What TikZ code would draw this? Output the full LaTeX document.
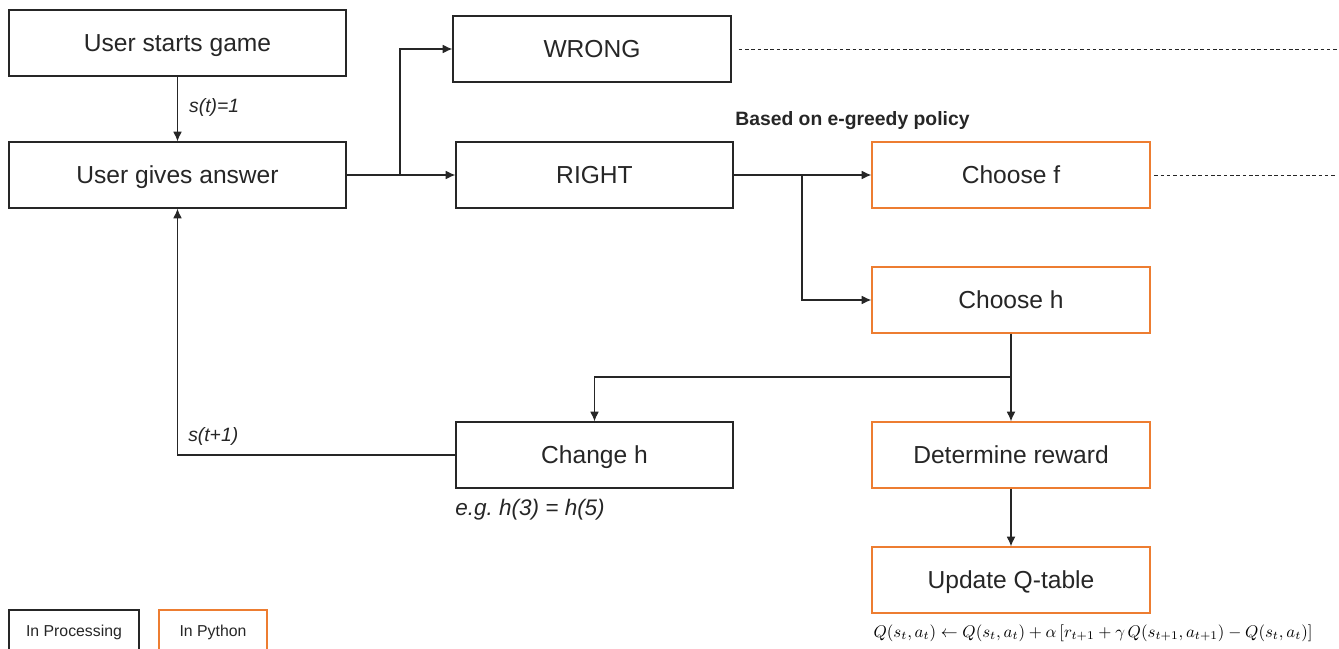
\documentclass[tikz,border=0pt]{standalone}
\usepackage{amsmath}
\usepackage{fontspec}
\setmainfont{Liberation Sans}
\usepackage{tikz}
\usetikzlibrary{arrows.meta,calc}
\usetikzlibrary{positioning}
\definecolor{pyorange}{RGB}{237,125,49}
\definecolor{boxgray}{RGB}{38,38,38}
\tikzset{
    procbox/.style={
           rectangle,
           draw=boxgray, line width=0.8pt,
           minimum height=1.32cm,
           inner sep=2pt,
           text centered,
           text height=10pt, text depth=0pt,
           text=boxgray,
           font=\fontsize{14}{16}\selectfont,
           },
    pybox/.style={
           procbox,
           draw=pyorange,
           },
    lbl/.style={font=\fontsize{11}{13}\selectfont\itshape, text=boxgray},
}
\begin{document}
\begin{tikzpicture}[-{Latex[length=5.5pt,width=5pt]}, x=0.02cm, y=-0.02cm, line width=0.6pt, draw=boxgray]
\useasboundingbox (0,0) rectangle (1339,649);
\node[procbox, minimum width=6.74cm] (start) at (177.5,43) {User starts game};
\node[procbox, minimum width=6.74cm] (ans) at (177.5,175) {User gives answer};
\node[procbox, minimum width=5.56cm] (wrong) at (592,49) {WRONG};
\node[procbox, minimum width=5.54cm] (right) at (594.5,175) {RIGHT};
\node[pybox, minimum width=5.56cm] (choosef) at (1011,175) {Choose f};
\node[pybox, minimum width=5.56cm] (chooseh) at (1011,300) {Choose h};
\node[procbox, minimum width=5.54cm] (changeh) at (594.5,455) {Change h};
\node[pybox, minimum width=5.56cm] (reward) at (1011,455) {Determine reward};
\node[pybox, minimum width=5.56cm] (qtable) at (1011,580) {Update Q-table};
% legend
\node[procbox, minimum width=2.6cm, minimum height=0.84cm, text height=6.5pt, font=\fontsize{9}{11}\selectfont] (legproc) at (74,631) {In Processing};
\node[pybox, minimum width=2.16cm, minimum height=0.84cm, text height=6.5pt, font=\fontsize{9}{11}\selectfont] (legpy) at (213,631) {In Python};
% texts
\node[font=\fontsize{11}{13}\selectfont\bfseries, anchor=west, text=boxgray] (policy) at (729,121) {Based on e-greedy policy};
\node[lbl, font=\fontsize{12.8}{14}\selectfont\itshape, anchor=west] (eg) at (449,510) {e.g.\ h(3) = h(5)};
\node[anchor=west, inner sep=0pt] (qrule) at (873,633) {\scalebox{0.96}{$Q(s_t,a_t)\leftarrow Q(s_t,a_t)+\alpha\left[r_{t+1}+\gamma\, Q(s_{t+1},a_{t+1})-Q(s_t,a_t)\right]$}};
% helper points
\coordinate (split1) at (400,175);
\coordinate (split2) at (802,175);
\coordinate (split3) at (1011,377);
\coordinate (wrongend) at (1337,49);
\coordinate (fend) at (1337,175);
% connectors
\draw (start) -- node[lbl, anchor=west, xshift=3pt, yshift=1pt]{s(t)=1} (ans);
\draw (ans.east) -- (right.west);
\draw (split1) |- (wrong.west);
\draw (right.east) -- (choosef.west);
\draw (split2) |- (chooseh.west);
\draw (chooseh.south) -- (reward.north);
\draw (split3) -| (changeh.north);
\draw (reward) -- (qtable);
\draw (changeh.west) -| node[lbl, pos=0.5, anchor=south west, xshift=2.5pt, yshift=2pt]{s(t+1)} (ans.south);
\draw[-, dash pattern=on 2pt off 1.6pt, line width=0.5pt] ([xshift=4pt]wrong.east) -- (wrongend);
\draw[-, dash pattern=on 2pt off 1.6pt, line width=0.5pt] ([xshift=2pt]choosef.east) -- (fend);
\end{tikzpicture}
\end{document}
